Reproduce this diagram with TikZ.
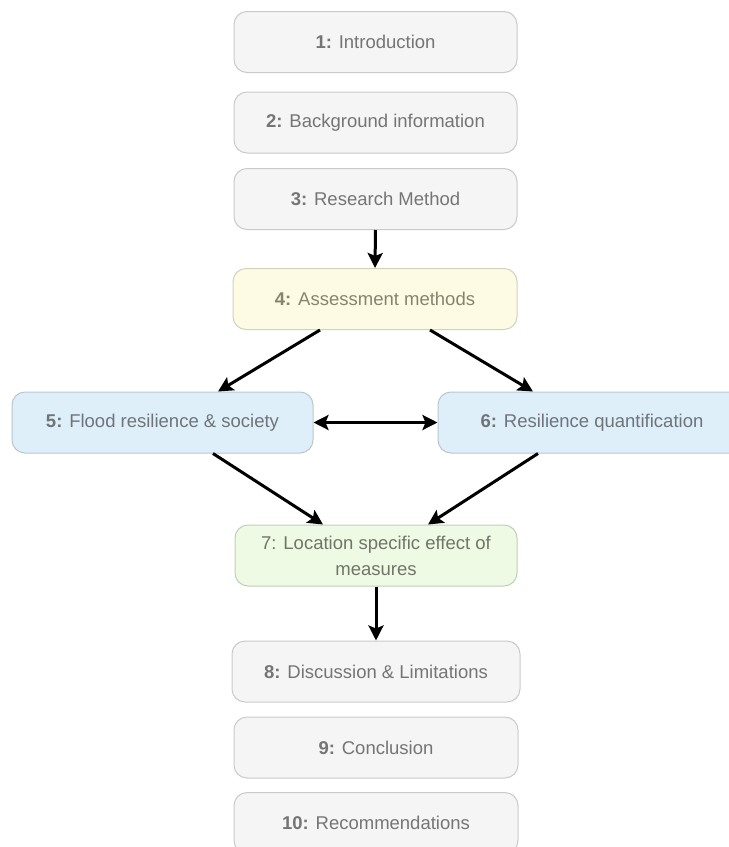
\documentclass[tikz,border=0pt]{standalone}
\usepackage{fontspec}
\setmainfont{Liberation Sans}
\usetikzlibrary{arrows.meta}
\definecolor{grayfill}{HTML}{F5F5F5}
\definecolor{grayline}{HTML}{CACACA}
\definecolor{yelfill}{HTML}{FDFBE4}
\definecolor{yelline}{HTML}{D2D2BE}
\definecolor{bluefill}{HTML}{DFEFFA}
\definecolor{blueline}{HTML}{B8C6D0}
\definecolor{grnfill}{HTML}{EEFAE3}
\definecolor{grnline}{HTML}{C2CEBA}
\definecolor{txtgray}{HTML}{757575}
\definecolor{txtyel}{HTML}{85846E}
\definecolor{txtblue}{HTML}{6E7479}
\definecolor{txtgrn}{HTML}{717569}
\tikzset{
  box/.style={draw=grayline, fill=grayfill, line width=1pt, rounded corners=13pt,
    minimum height=61pt, inner sep=0pt, text=txtgray, align=center,
    font=\fontsize{18.5}{22}\selectfont},
  ybox/.style={box, draw=yelline, fill=yelfill, text=txtyel},
  bbox/.style={box, draw=blueline, fill=bluefill, text=txtblue},
  gbox/.style={box, draw=grnline, fill=grnfill, text=txtgrn},
  arr/.style={line width=3pt, -{Stealth[length=15pt,width=15pt,inset=3pt]}},
  darr/.style={line width=3pt, {Stealth[length=15pt,width=15pt,inset=3pt]}-{Stealth[length=15pt,width=15pt,inset=3pt]}}
}
\begin{document}
\begin{tikzpicture}[x=1pt,y=-1pt]
\useasboundingbox (0,0) rectangle (729,847);
\clip (0,0) rectangle (729,847);
\node[box, minimum width=283pt] (b1) at (375.5,42) {\textbf{1:} Introduction};
\node[box, minimum width=283pt] (b2) at (375.5,122.5) {\textbf{2:} Background information};
\node[box, minimum width=283pt] (b3) at (375.5,199) {\textbf{3:} Research Method};
\node[ybox, minimum width=284pt] (b4) at (375,299) {\textbf{4:} Assessment methods};
\node[bbox, minimum width=301pt] (b5) at (162.5,422.5) {\textbf{5:} Flood resilience \& society};
\node[bbox, minimum width=308pt] (b6) at (592,422.5) {\textbf{6:} Resilience quantification};
\node[gbox, minimum width=282pt, font=\fontsize{18.5}{28}\selectfont] (b7) at (376,555.5) {\raisebox{-2pt}{7: Location specific effect of}\\measures};
\node[box, minimum width=288pt] (b8) at (376,671.5) {\textbf{8:} Discussion \& Limitations};
\node[box, minimum width=284pt] (b9) at (376,747.5) {\textbf{9:} Conclusion};
\node[box, minimum width=284pt] (b10) at (376,823) {\textbf{10:} Recommendations};
\draw[arr] (b3.south) -- (b4.north);
\draw[arr] ([xshift=-55pt]b4.south) -- ([xshift=55.5pt]b5.north);
\draw[arr] ([xshift=55pt]b4.south) -- ([xshift=-59pt]b6.north);
\draw[darr] (b5.east) -- (b6.west);
\draw[arr] ([xshift=50.5pt]b5.south) -- ([xshift=-53pt]b7.north);
\draw[arr] ([xshift=-54pt]b6.south) -- ([xshift=52pt]b7.north);
\draw[arr] (b7.south) -- (b8.north);
\end{tikzpicture}
\end{document}
